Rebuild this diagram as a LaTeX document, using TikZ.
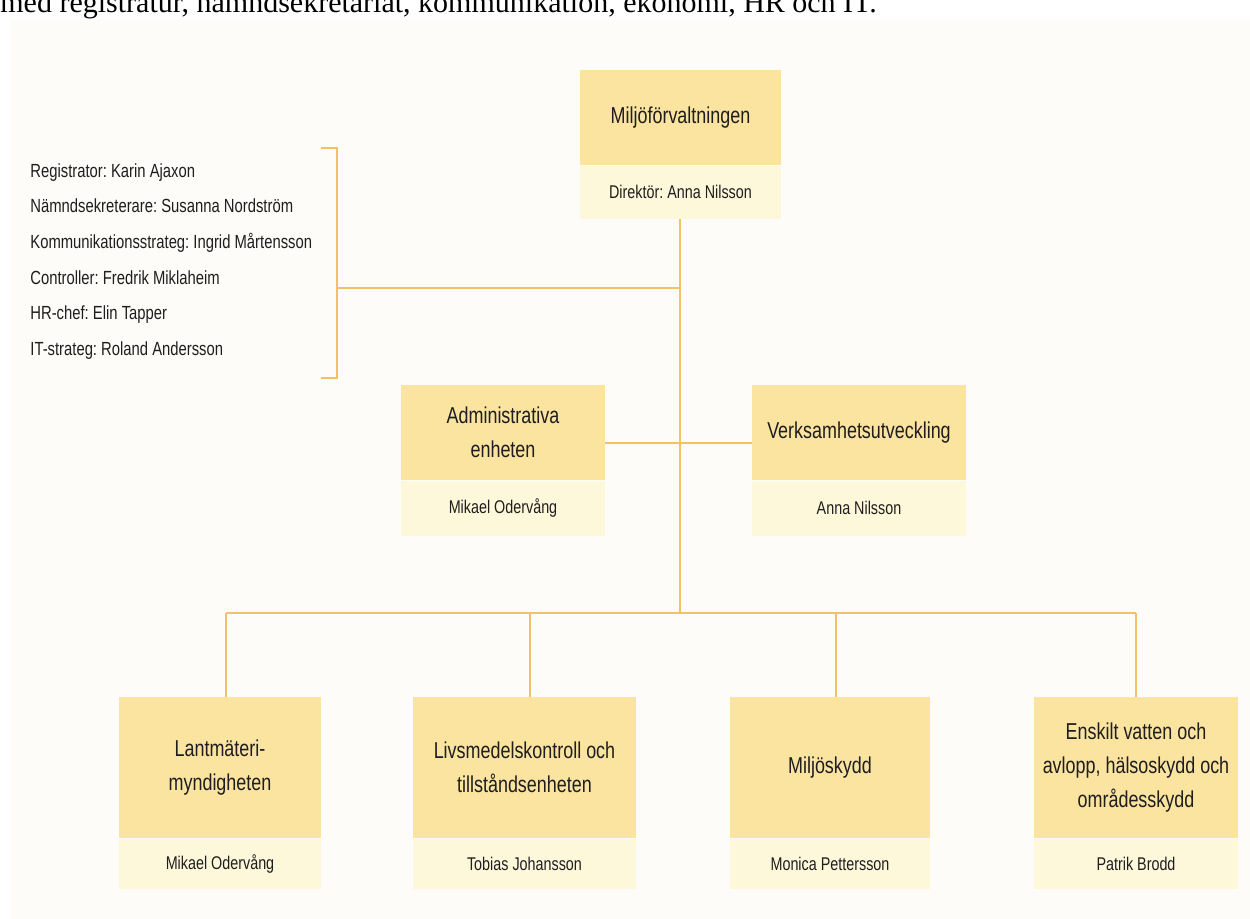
\documentclass[tikz,border=0pt]{standalone}
\usepackage{fontspec}
\setmainfont{Liberation Sans}[FakeStretch=0.78]
\newfontfamily\introfont{Liberation Serif}
\frenchspacing
\definecolor{bgc}{HTML}{FDFCF9}
\definecolor{headc}{HTML}{FBE3A0}
\definecolor{namec}{HTML}{FEF8DA}
\definecolor{linec}{HTML}{F2C265}
\definecolor{txtc}{HTML}{1E1E1E}
\tikzset{
  headbox/.style={fill=headc, draw=none, inner sep=0pt, align=center, text=txtc,
    font=\fontsize{11.5}{17}\selectfont},
  namebox/.style={fill=namec, draw=none, inner sep=0pt, align=center, text=txtc,
    font=\fontsize{9.2}{12}\selectfont},
  listtxt/.style={anchor=base west, inner sep=0pt, text=txtc, font=\fontsize{9.5}{12}\selectfont},
  conn/.style={draw=linec, line width=1pt}
}
\begin{document}
\begin{tikzpicture}[x=0.5pt,y=-0.5pt]
\useasboundingbox (0,0) rectangle (1250,919);
\clip (0,0) rectangle (1250,919);
\fill[white] (0,0) rectangle (1250,919);
\fill[bgc] (10,19) rectangle (1250,919);
\node[anchor=base west, inner sep=0pt, font=\introfont\fontsize{15}{18}\selectfont] (intro) at (0,13)
  {med registratur, nämndsekretariat, kommunikation, ekonomi, HR och IT.};

% top box
\node[headbox, minimum width=100.5pt, minimum height=47.5pt] (toph) at (680.5,117.5) {Miljöförvaltningen};
\node[namebox, minimum width=100.5pt, minimum height=26.5pt, anchor=north] (topn) at (toph.south) {Direktör: Anna Nilsson};

% middle boxes
\node[headbox, minimum width=102pt, minimum height=47.5pt] (admh) at (503,432.5) {Administrativa\\enheten};
\node[namebox, minimum width=102pt, minimum height=27.5pt, anchor=north] (admn) at (admh.south) {Mikael Odervång};
\node[headbox, minimum width=107pt, minimum height=47.5pt] (verh) at (859,432.5) {Verksamhetsutveckling};
\node[namebox, minimum width=107pt, minimum height=27.5pt, anchor=north] (vern) at (verh.south) {Anna Nilsson};

% bottom boxes
\node[headbox, minimum width=101pt, minimum height=70.5pt] (lanh) at (220,767.5) {Lantmäteri-\\myndigheten};
\node[namebox, minimum width=101pt, minimum height=25pt, anchor=north] (lann) at (lanh.south) {Mikael Odervång};
\node[headbox, minimum width=111.5pt, minimum height=70.5pt] (livh) at (524.5,767.5) {Livsmedelskontroll och\\tillståndsenheten};
\node[namebox, minimum width=111.5pt, minimum height=25pt, anchor=north] (livn) at (livh.south) {Tobias Johansson};
\node[headbox, minimum width=100pt, minimum height=70.5pt] (milh) at (830,767.5) {Miljöskydd};
\node[namebox, minimum width=100pt, minimum height=25pt, anchor=north] (miln) at (milh.south) {Monica Pettersson};
\node[headbox, minimum width=102pt, minimum height=70.5pt] (ensh) at (1136,767.5) {Enskilt vatten och\\avlopp, hälsoskydd och\\områdesskydd};
\node[namebox, minimum width=102pt, minimum height=25pt, anchor=north] (ensn) at (ensh.south) {Patrik Brodd};

% staff list
\node[listtxt] (l1) at (30,178) {Registrator: Karin Ajaxon};
\node[listtxt] (l2) at (30,213) {Nämndsekreterare: Susanna Nordström};
\node[listtxt] (l3) at (30,249) {Kommunikationsstrateg: Ingrid Mårtensson};
\node[listtxt] (l4) at (30,285) {Controller: Fredrik Miklaheim};
\node[listtxt] (l5) at (30,320) {HR-chef: Elin Tapper};
\node[listtxt] (l6) at (30,356) {IT-strateg: Roland Andersson};

% connectors
\coordinate (bus) at (680,613);
\coordinate (staff) at (680,288);
\coordinate (mid) at (680,443);
\coordinate (bt) at (321,148);
\coordinate (bb) at (321,378);
\coordinate (bm) at (337,288);
\draw[conn] (topn.south -| bus) -- (bus);
\draw[conn] (bt) -- (bt -| bm) -- (bb -| bm) -- (bb);
\draw[conn] (bm) -- (staff);
\draw[conn] (admh.east |- mid) -- (verh.west |- mid);
\coordinate (d1) at (226,613);
\coordinate (d2) at (530,613);
\coordinate (d3) at (836,613);
\coordinate (d4) at (1136,613);
\draw[conn] (d1) -- (d4);
\draw[conn] (d1) -- (d1 |- lanh.north);
\draw[conn] (d2) -- (d2 |- livh.north);
\draw[conn] (d3) -- (d3 |- milh.north);
\draw[conn] (d4) -- (d4 |- ensh.north);
\end{tikzpicture}
\end{document}
